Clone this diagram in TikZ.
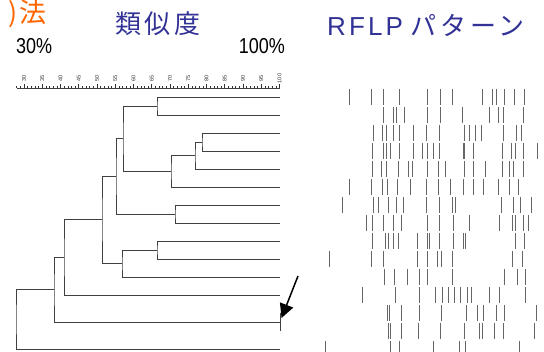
\documentclass[tikz,border=0pt]{standalone}
\usepackage{fontspec}
\usepackage{graphicx}
\setmainfont{Liberation Sans}
\newfontfamily\jpsp[LetterSpace=15]{Noto Sans CJK JP}
\newfontfamily\jpfont{Noto Sans CJK JP}
\newfontfamily\latsp[LetterSpace=12]{Liberation Sans}
\usetikzlibrary{arrows.meta}
\definecolor{ttlblue}{RGB}{50,50,150}
\definecolor{ttlorange}{RGB}{255,102,0}
\begin{document}
\begin{tikzpicture}[x=1pt,y=-1pt,
  tree/.style={draw=black!75,line width=0.8pt},
  band/.style={draw=black!60,line width=0.9pt},
  axtick/.style={draw=black!80,line width=0.55pt},
  axlab/.style={rotate=90,font=\fontsize{5.5}{5.5}\selectfont,inner sep=0pt,text=black!80},
  ttl/.style={inner sep=0pt,text=ttlblue}]
\useasboundingbox (0,0) rectangle (544,352);
\clip (0,0) rectangle (544,352);

% titles
\node[anchor=base east,inner sep=0pt,text height=21pt,text depth=2pt,text=ttlorange,font=\jpfont\fontsize{27}{27}\selectfont] (method) at (47,22.5) {)\kern2pt 法};
\node[ttl,font=\jpsp\fontsize{26}{26}\selectfont] (sim) at (158,24) {類似度};
\node[ttl,anchor=west,font=\fontsize{26}{26}\selectfont] (rflp) at (327,25) {{\latsp RFLP} {\jpsp パターン}};
\node[anchor=west,inner sep=0pt,font=\fontsize{18}{18}\selectfont] (p30) at (16,46) {\scalebox{1}[1.2]{30\%}};
\node[anchor=east,inner sep=0pt,font=\fontsize{18}{18}\selectfont] (p100) at (285,46) {\scalebox{1}[1.2]{100\%}};

% axis
\coordinate (ax0) at (17,88);
\coordinate (ax1) at (280,88);
\draw[tree] (ax0) -- (ax1);
\foreach \p in {28,...,100} {
  \pgfmathsetmacro\xx{24+(\p-30)*3.65}
  \draw[axtick] (\xx,88) -- (\xx,86.2);
}
\foreach \p in {30,35,...,100} {
  \pgfmathsetmacro\xx{24+(\p-30)*3.65}
  \draw[axtick] (\xx,88) -- (\xx,84.5);
  \node[axlab] (lab\p) at (\xx,78.5) {\p};
}

% leaves
\foreach \i/\y in {1/97,2/115,3/133,4/151,5/169,6/187,7/205,8/223,9/241,10/259,11/277,12/295,13/322,14/349}
  \coordinate (l\i) at (280,\y);
% internal nodes
\coordinate (A) at (157,106);
\coordinate (B) at (202,142);
\coordinate (C) at (195,155.5);
\coordinate (D) at (171,171.25);
\coordinate (E) at (123,138.6);
\coordinate (F) at (175,214);
\coordinate (G) at (116,176.3);
\coordinate (H) at (157,250);
\coordinate (I) at (122,263.5);
\coordinate (J) at (102,219.9);
\coordinate (K) at (64,257.5);
\coordinate (L) at (54,289.7);
\coordinate (M) at (16,319.4);

\draw[tree] (l1) -| (A) |- (l2);
\draw[tree] (l3) -| (B) |- (l4);
\draw[tree] (B) -| (C) |- (l5);
\draw[tree] (C) -| (D) |- (l6);
\draw[tree] (A) -| (E) |- (D);
\draw[tree] (l7) -| (F) |- (l8);
\draw[tree] (E) -| (G) |- (F);
\draw[tree] (l9) -| (H) |- (l10);
\draw[tree] (H) -| (I) |- (l11);
\draw[tree] (G) -| (J) |- (I);
\draw[tree] (J) -| (K) |- (l12);
\draw[tree] (K) -| (L) |- (l13);
\draw[tree] (L) -| (M) |- (l14);
\coordinate (t13a) at (280,313);
\coordinate (t13b) at (280,331);
\draw[tree] (t13a) -- (t13b);

% arrow
\coordinate (arrS) at (298,276);
\coordinate (arrE) at (281.5,318);
\draw[black,line width=1.5pt,-{Triangle[length=14pt,width=14pt]}] (arrS) -- (arrE);

% RFLP bands
\foreach \y/\xs in {
 97/{349.3,371.3,383.7,399,427.7,440,452.7,482.3,492,496.7,504.3,514.3,524.3},
 115/{383.7,393,396.7,404.7,427.7,440.3,462.3,489.3,498.7,503.3,523.7},
 133/{373,382.3,386.3,393,399,413.7,426.7,439.7,464.3,469.7,475.3,481.3,503.3,516,521.3},
 151/{372.3,383.7,386.3,390,399,413.7,422.3,427.7,433.3,439.3,463.7,464.7,473.3,502.3,511.3,515.7,523,537.7},
 169/{372,381.3,386.3,398.7,408.3,412.3,427.3,438.7,445.7,464.3,473.3,485.3,502.3,509.3,513.7,523.7},
 187/{349.7,371.3,382.3,387.3,397.7,410.7,426.3,438.3,450.7,463.7,473.3,483.3,498,509.7,518.7},
 205/{342.3,373,378.3,388.7,396.7,403.7,426.3,439.7,452.7,455.7,501,513.7,520.7,531.3},
 223/{366,372,383.7,393.3,401.3,427.3,439.7,453.3,469.7,499.3,512.7,515,523.7,528.3},
 241/{372,385.7,388.3,393.7,398.3,417.3,427.3,429.3,439.3,453,463.7,465.3,515.3,524.3},
 259/{329.7,371.3,383.7,417.3,427.7,437.7,441,452.3,512.7,522.3},
 277/{384.3,394.3,407.3,419.3,427.3,452.3,504,517.7,525.3},
 295/{362.7,395,419.3,435,442.3,448.3,454.3,460.7,467.7,471,489,499.7,525},
 313/{387.7,389.7,401.3,419.3,441.3,466.7,477.7,483,496.3,504,536},
 331/{388.3,390.3,401.3,418.3,440.3,464.7,479.7,482.3,494.7,503.7,534.3},
 349/{325.7,390.3,399.3,433.3,459,465,519}} {
  \foreach \x in \xs {
    \draw[band] (\x,\y-8) -- (\x,\y+8);
  }
}
\end{tikzpicture}
\end{document}
